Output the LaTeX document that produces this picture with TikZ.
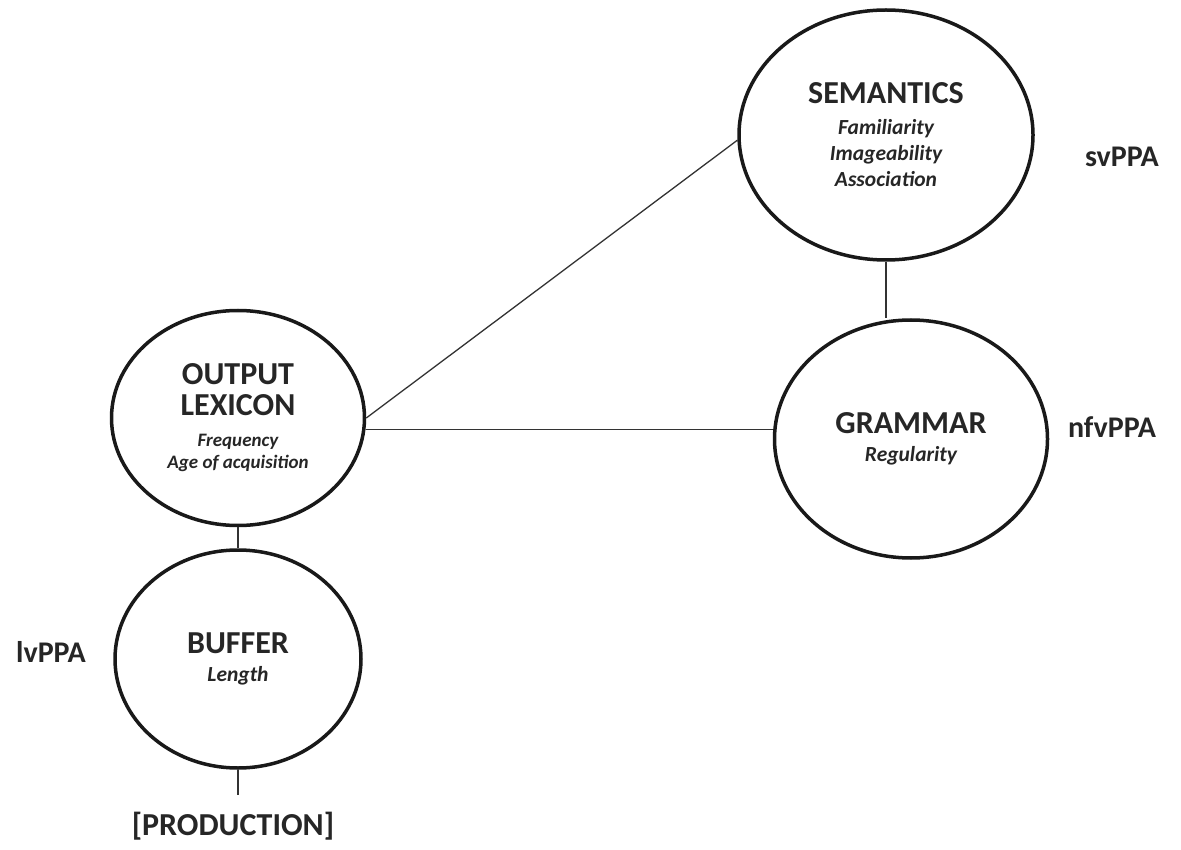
\documentclass[tikz,border=0pt]{standalone}
\usepackage{fontspec}
\setmainfont{Carlito}
\usetikzlibrary{shapes.geometric}

\newcommand{\hd}{\fontsize{32}{34}\selectfont\bfseries\upshape}
\newcommand{\fx}{\bfseries\itshape}

\tikzset{
  stage/.style={ellipse, draw=black!90, line width=3.5pt,
    inner sep=0pt, align=center, text=black!85,
    font=\fontsize{21.5}{26}\selectfont\fx},
  link/.style={line width=1.3pt, draw=black!80},
  variant/.style={anchor=base, text=black!85,
    font=\fontsize{30}{30}\selectfont\bfseries}
}

\begin{document}
\begin{tikzpicture}[x=1pt, y=-1pt]

    \useasboundingbox (0,0) rectangle (1181,850);

    \node[stage,
    minimum width=294pt,
    minimum height=250pt] (sem) at (886,135)
    {{\hd SEMANTICS}\\[5pt] Familiarity\\ Imageability\\ Association};

    \node[stage,
    minimum width=273pt,
    minimum height=238pt] (gram) at (911,439)
    {{\hd GRAMMAR}\\[2pt] Regularity};

    \node[stage,
    minimum width=253pt,
    minimum height=215pt,
    font=\fontsize{19}{22}\selectfont\fx] (lex) at (238,418)
    {{\hd OUTPUT}\\[9pt] {\hd LEXICON}\\[9pt] Frequency\\ Age of acquisition};

    \node[stage,
    minimum width=246pt,
    minimum height=218pt] (buf) at (238,659)
    {{\hd BUFFER}\\[2pt] Length};

    % variant labels
    \node[variant] (sv) at (1122,167) {svPPA};
    \node[variant] (nfv) at (1112,437) {nfvPPA};
    \node[variant] (lv) at (51,662) {lvPPA};

    \node[variant, font=\fontsize{32}{32}\selectfont\bfseries]
    (prod) at (233,835) {[PRODUCTION]};
    \coordinate (out) at (238,795);

    \draw[link] (lex.east) -- (sem.182);
    \draw[link] (lex.-5) -- (lex.-5 -| gram.west);
    \draw[link] (sem.south) -- (sem.south |- gram.north);
    \draw[link] (lex.south) -- (buf.north);
    \draw[link] (buf.south) -- (out);

\end{tikzpicture}
\end{document}
